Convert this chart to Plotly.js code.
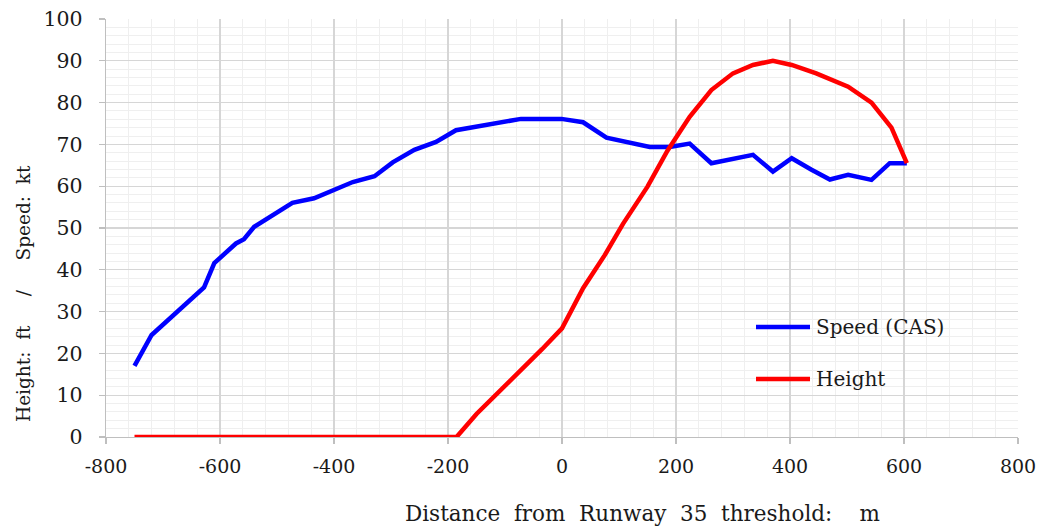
<!DOCTYPE html>
<html>
<head>
<meta charset="utf-8">
<script src="https://cdn.plot.ly/plotly-3.0.1.min.js"></script>
<style>html,body{margin:0;padding:0;background:#fff;}#chart{width:1046px;height:530px;}</style>
</head>
<body>
<div id="chart"></div>
<script>
const speedX = [-750,-720,-628,-610,-572,-558,-540,-473,-435,-400,-367,-329,-297,-259,-221,-186,-151,-110,-72,-1,37,78,107,154,189,224,262,300,335,370,403,437,470,502,543,575,605];
const speedY = [17,24.4,35.8,41.6,46.3,47.3,50.3,56,57.1,59,61,62.4,65.7,68.7,70.6,73.4,74.2,75.4,76.1,76.1,75.3,71.6,70.8,69.4,69.4,70.2,65.5,66.4,67.5,63.5,66.7,64,61.6,62.7,61.5,65.5,65.5];
const heightX = [-750,-185,-150,-110,-70,-35,0,37,75,107,150,185,224,262,300,335,370,403,446,502,543,578,605];
const heightY = [0,0,5.5,10.8,16,21,26,35.6,43.5,51,59.9,68.5,76.6,83,87,89,90,89,87,83.8,80,74,65.5];
const seriesNames = ['Speed (CAS)','Height'];
const seriesColors = ['#0000ff','#ff0000'];
const xTickVals = [-800,-600,-400,-200,0,200,400,600,800];
const xTickText = ['-800','-600','-400','-200','0','200','400','600','800'];
const xTitle = 'Distance  from  Runway  35  threshold:    m';
const yTitle = 'Height:  ft     /     Speed:  kt';

const font = 'DejaVu Serif, serif';
const txt = '#1a1a1a';
const traces = [
  {x: speedX, y: speedY, name: seriesNames[0], mode: 'lines', line: {color: seriesColors[0], width: 4.5}},
  {x: heightX, y: heightY, name: seriesNames[1], mode: 'lines', line: {color: seriesColors[1], width: 4.5}}
];

// custom legend (lines + text) in paper coordinates
const plotL = 106, plotW = 912, plotT = 19, plotH = 418;
const px = v => (v - plotL) / plotW;
const py = v => (plotT + plotH - v) / plotH;
const legendRows = [327, 379];
const shapes = [];
const annotations = [];
seriesNames.forEach((n, i) => {
  shapes.push({type: 'line', xref: 'paper', yref: 'paper', x0: px(756), x1: px(810), y0: py(legendRows[i]), y1: py(legendRows[i]),
               line: {color: seriesColors[i], width: 4.5}});
  annotations.push({text: n, xref: 'paper', yref: 'paper', x: px(814), y: py(legendRows[i]), xanchor: 'left', yanchor: 'middle',
                    showarrow: false, font: {family: font, size: 20, color: txt}});
});
annotations.push({text: xTitle, xref: 'paper', yref: 'paper', x: px(642), y: py(513), xanchor: 'center', yanchor: 'middle',
                  showarrow: false, font: {family: font, size: 21.5, color: txt}});
annotations.push({text: yTitle, xref: 'paper', yref: 'paper', x: px(23), y: py(294), xanchor: 'center', yanchor: 'middle',
                  textangle: -90, showarrow: false, font: {family: font, size: 18.5, color: txt}});

const xTickFont = {family: font, size: 19, color: txt};
const yTickFont = {family: font, size: 20.5, color: txt};
const layout = {
  width: 1046, height: 530,
  margin: {l: plotL, r: 1046 - plotL - plotW, t: plotT, b: 530 - plotT - plotH},
  paper_bgcolor: '#fff', plot_bgcolor: '#fff',
  font: {family: font, size: 19, color: txt},
  showlegend: false,
  xaxis: {range: [-800, 800], tickvals: xTickVals, ticktext: xTickText, tickfont: xTickFont,
          showgrid: true, gridcolor: '#d6d6d6', gridwidth: 1.3, zeroline: false,
          showline: true, linecolor: '#bfbfbf', linewidth: 1.3,
          ticks: 'outside', ticklen: 6, tickcolor: '#bfbfbf', tickwidth: 1.3, ticklabelstandoff: 6,
          minor: {dtick: 40, showgrid: true, gridcolor: '#efefef', gridwidth: 1, ticks: ''},
          fixedrange: true},
  yaxis: {range: [0, 100], dtick: 10, tickfont: yTickFont,
          showgrid: true, gridcolor: '#d6d6d6', gridwidth: 1.3, zeroline: false,
          showline: true, linecolor: '#bfbfbf', linewidth: 1.3,
          ticks: 'outside', ticklen: 6, tickcolor: '#bfbfbf', tickwidth: 1.3, ticklabelstandoff: 12,
          minor: {dtick: 2, showgrid: true, gridcolor: '#efefef', gridwidth: 1, ticks: ''},
          fixedrange: true},
  shapes: shapes,
  annotations: annotations
};
Plotly.newPlot('chart', traces, layout, {displayModeBar: false, staticPlot: true});
</script>
</body>
</html>
